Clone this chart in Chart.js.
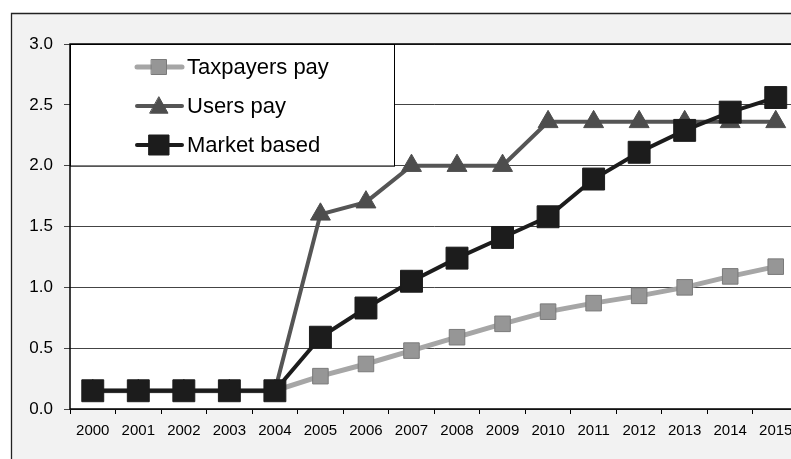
<!DOCTYPE html>
<html>
<head>
<meta charset="utf-8">
<script src="https://cdn.jsdelivr.net/npm/chart.js@4/dist/chart.umd.min.js"></script>
<style>
  html, body { margin: 0; padding: 0; background: #ffffff; overflow: hidden; }
  #wrap { position: relative; width: 791px; height: 459px; overflow: hidden; }
  #chart { display: block; }
</style>
</head>
<body>
<div id="wrap"><canvas id="chart" width="820" height="459"></canvas></div>
<script>
const years = ['2000','2001','2002','2003','2004','2005','2006','2007','2008','2009','2010','2011','2012','2013','2014','2015'];
const taxpayersPay = [0.15,0.15,0.15,0.15,0.15,0.27,0.37,0.48,0.59,0.70,0.80,0.87,0.93,1.00,1.09,1.17];
const usersPay     = [0.15,0.15,0.15,0.15,0.15,1.60,1.70,2.00,2.00,2.00,2.36,2.36,2.36,2.36,2.36,2.36];
const marketBased  = [0.15,0.15,0.15,0.15,0.15,0.59,0.83,1.05,1.24,1.41,1.58,1.89,2.11,2.29,2.44,2.56];
const seriesNames  = ['Taxpayers pay','Users pay','Market based'];

const FONT = "'Liberation Sans', Arial, sans-serif";

const styles = [
  { line: '#a6a6a6', width: 5, fill: '#969696', edge: '#7a7a7a', shape: 'rect', r: 11, legendSize: 15 },
  { line: '#555555', width: 4, fill: '#4d4d4d', edge: '#4d4d4d', shape: 'triangle', r: 11.5, legendSize: 18 },
  { line: '#1c1c1c', width: 4, fill: '#1c1c1c', edge: '#1c1c1c', shape: 'rect', r: 15.5, legendSize: 20 }
];

// Grey outer frame and white plotting area
const framePlugin = {
  id: 'frame',
  beforeDraw(chart) {
    const { ctx, chartArea: a, width, height } = chart;
    ctx.save();
    ctx.fillStyle = '#ffffff';
    ctx.fillRect(0, 0, width, height);
    ctx.fillStyle = '#f2f2f2';
    ctx.fillRect(11, 13, width - 11, height - 13);
    ctx.strokeStyle = '#222222';
    ctx.lineWidth = 1.3;
    ctx.beginPath();
    ctx.moveTo(11.5, height);
    ctx.lineTo(11.5, 13.5);
    ctx.lineTo(width, 13.5);
    ctx.stroke();
    ctx.fillStyle = '#ffffff';
    ctx.fillRect(a.left, a.top, a.right - a.left, a.bottom - a.top);
    ctx.restore();
  },
  beforeDatasetsDraw(chart) {
    const { ctx, chartArea: a } = chart;
    ctx.save();
    ctx.strokeStyle = '#000000';
    ctx.lineWidth = 1.5;
    ctx.beginPath();
    ctx.moveTo(a.right, a.top);
    ctx.lineTo(a.left, a.top);
    ctx.lineTo(a.left, a.bottom);
    ctx.lineTo(a.right, a.bottom);
    ctx.stroke();
    ctx.restore();
  }
};

// Boxed legend sitting in the top-left corner of the plot
const legendBoxPlugin = {
  id: 'legendBox',
  afterDatasetsDraw(chart) {
    const { ctx, chartArea: a } = chart;
    const yScale = chart.scales.y;
    const x0 = a.left, y0 = a.top;
    const x1 = 394, y1 = yScale.getPixelForValue(2.0);
    ctx.save();
    ctx.fillStyle = '#ffffff';
    ctx.fillRect(x0, y0, x1 - x0, y1 - y0);
    ctx.strokeStyle = '#000000';
    ctx.lineWidth = 1;
    ctx.strokeRect(x0 + 0.5, y0 + 0.5, x1 - x0, y1 - y0);
    const rows = [67, 106, 145];
    seriesNames.forEach((name, i) => {
      const s = styles[i];
      const cy = rows[i];
      ctx.strokeStyle = s.line;
      ctx.lineWidth = s.width;
      ctx.lineCap = 'round';
      ctx.beginPath();
      ctx.moveTo(137, cy);
      ctx.lineTo(182, cy);
      ctx.stroke();
      const mx = 159, h = s.legendSize / 2;
      ctx.fillStyle = s.fill;
      ctx.strokeStyle = s.edge;
      ctx.lineWidth = 1;
      ctx.beginPath();
      if (s.shape === 'rect') {
        ctx.rect(mx - h, cy - h, 2 * h, 2 * h);
      } else {
        ctx.moveTo(mx, cy - h);
        ctx.lineTo(mx + h, cy + h * 0.8);
        ctx.lineTo(mx - h, cy + h * 0.8);
        ctx.closePath();
      }
      ctx.fill();
      ctx.stroke();
      ctx.fillStyle = '#000000';
      ctx.font = '22px ' + FONT;
      ctx.textAlign = 'left';
      ctx.textBaseline = 'middle';
      ctx.fillText(name, 187, cy + 1);
    });
    ctx.restore();
  }
};

function makeDataset(i, values, order) {
  const s = styles[i];
  return {
    label: seriesNames[i],
    data: values,
    order: order,
    borderColor: s.line,
    borderWidth: s.width,
    backgroundColor: s.fill,
    pointStyle: s.shape,
    pointRadius: s.r,
    pointHoverRadius: s.r,
    pointBackgroundColor: s.fill,
    pointBorderColor: s.edge,
    pointBorderWidth: 1,
    tension: 0,
    fill: false,
    clip: false
  };
}

new Chart(document.getElementById('chart'), {
  type: 'line',
  data: {
    labels: years,
    datasets: [
      makeDataset(0, taxpayersPay, 3),
      makeDataset(1, usersPay, 2),
      makeDataset(2, marketBased, 1)
    ]
  },
  options: {
    responsive: false,
    animation: false,
    events: [],
    layout: { padding: { left: 0, top: 44, right: 21.5, bottom: 0 } },
    plugins: { legend: { display: false }, tooltip: { enabled: false } },
    scales: {
      x: {
        offset: true,
        afterFit(scale) { scale.height = 50; },
        grid: {
          offset: true,
          drawOnChartArea: false,
          drawTicks: true,
          tickLength: 5,
          color: '#000000',
          lineWidth: 1
        },
        border: { display: false },
        ticks: {
          color: '#000000',
          font: { family: FONT, size: 15 },
          padding: 8,
          maxRotation: 0,
          autoSkip: false
        }
      },
      y: {
        min: 0,
        max: 3,
        afterFit(scale) { scale.width = 70; },
        grid: {
          color: '#444444',
          lineWidth: 1,
          tickLength: 6,
          drawTicks: true
        },
        border: { display: false },
        ticks: {
          stepSize: 0.5,
          color: '#000000',
          font: { family: FONT, size: 17 },
          padding: 11,
          callback: (v) => Number(v).toFixed(1)
        }
      }
    }
  },
  plugins: [framePlugin, legendBoxPlugin]
});
</script>
</body>
</html>
